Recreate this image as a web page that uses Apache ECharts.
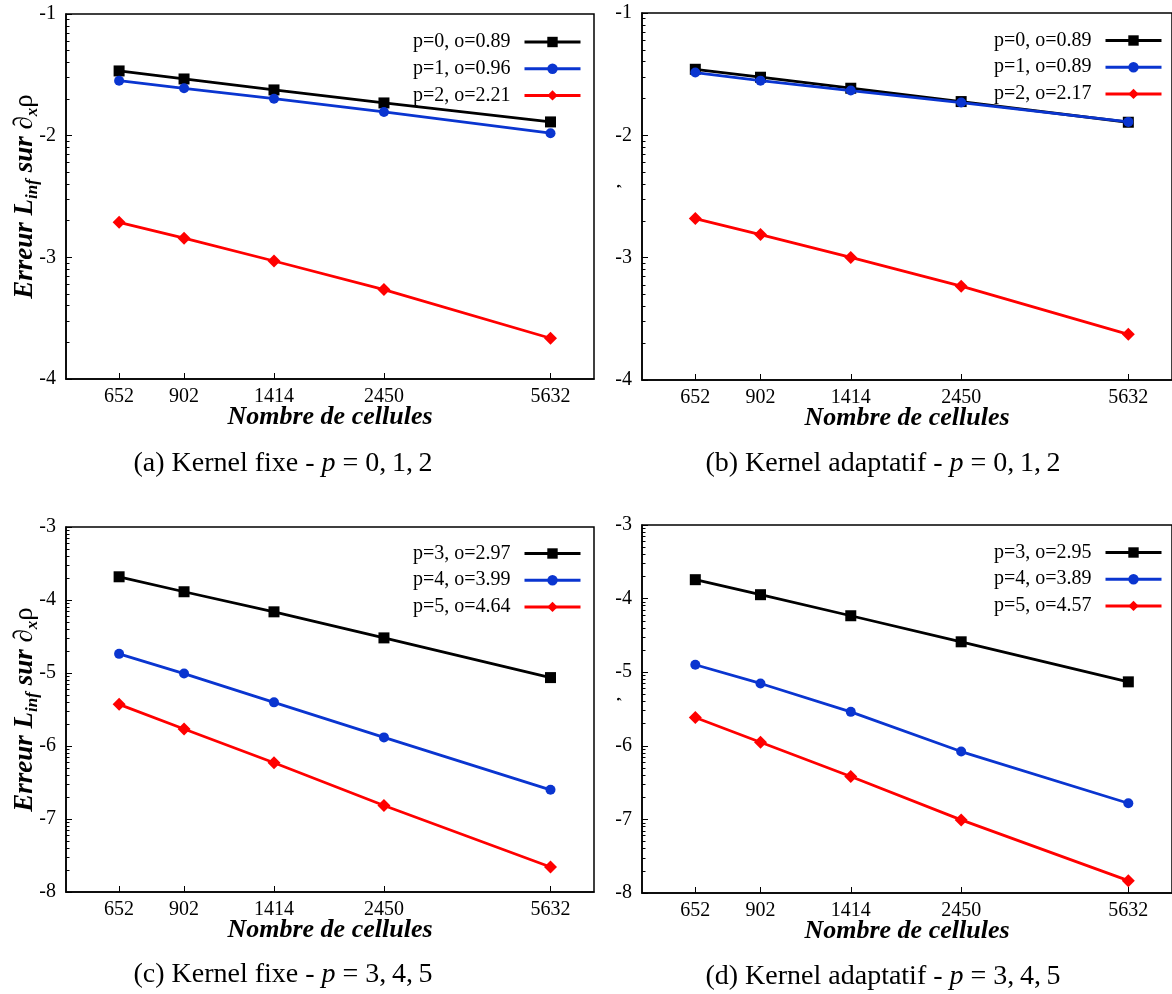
<!DOCTYPE html>
<html>
<head>
<meta charset="utf-8">
<script src="https://cdn.jsdelivr.net/npm/echarts@6/dist/echarts.min.js"></script>
<style>html,body{margin:0;padding:0;background:#fff}#c{width:1172px;height:994px}</style>
</head>
<body>
<div id="c"></div>
<script>
// ---- data (log10 of L_inf error vs number of cells) ----
const cells = [652, 902, 1414, 2450, 5632];

const namesA = ['p=0, o=0.89', 'p=1, o=0.96', 'p=2, o=2.21'];
const a_p0 = [-1.468, -1.534, -1.624, -1.731, -1.887];
const a_p1 = [-1.548, -1.611, -1.696, -1.805, -1.980];
const a_p2 = [-2.712, -2.843, -3.030, -3.265, -3.665];

const namesB = ['p=0, o=0.89', 'p=1, o=0.89', 'p=2, o=2.17'];
const b_p0 = [-1.460, -1.525, -1.615, -1.724, -1.893];
const b_p1 = [-1.487, -1.553, -1.634, -1.732, -1.890];
const b_p2 = [-2.680, -2.811, -2.998, -3.233, -3.627];

const namesC = ['p=3, o=2.97', 'p=4, o=3.99', 'p=5, o=4.64'];
const c_p3 = [-3.682, -3.887, -4.162, -4.519, -5.063];
const c_p4 = [-4.738, -5.008, -5.402, -5.882, -6.600];
const c_p5 = [-5.429, -5.768, -6.230, -6.815, -7.657];

const namesD = ['p=3, o=2.95', 'p=4, o=3.89', 'p=5, o=4.57'];
const d_p3 = [-3.743, -3.947, -4.233, -4.587, -5.131];
const d_p4 = [-4.899, -5.153, -5.539, -6.078, -6.781];
const d_p5 = [-5.616, -5.951, -6.418, -7.007, -7.832];

const captions = ['(a) Kernel fixe - ', '(b) Kernel adaptatif - ', '(c) Kernel fixe - ', '(d) Kernel adaptatif - '];
const captionTails = ['\u2005=\u20050,\u20091,\u20092', '\u2005=\u20050,\u20091,\u20092', '\u2005=\u20053,\u20094,\u20095', '\u2005=\u20053,\u20094,\u20095'];
const xTitle = 'Nombre de cellules';
const xMin = 500, xMax = 7000;
const yRanges = [[-4, -1], [-4, -1], [-8, -3], [-8, -3]];

// ---- layout / style ----
const FONT = '"Liberation Serif", "Times New Roman", serif';
const colors = ['#000000', '#0a35d0', '#ff0000'];
const symbols = ['rect', 'circle', 'diamond'];
const symSizes = [11, 10, 13];
const grids = [
  {left: 66, top: 14, width: 528, height: 365},
  {left: 642, top: 13, width: 532, height: 367},
  {left: 66, top: 527, width: 528, height: 365},
  {left: 642, top: 525, width: 532, height: 368}
];
const legendPos = [
  {right: 590, top: 32},
  {right: 9, top: 30.5},
  {right: 590, top: 543.5},
  {right: 9, top: 542.5}
];
const captionPos = [[283, 464], [883, 464], [283, 975], [883, 977]];

const panels = [
  {names: namesA, data: [a_p0, a_p1, a_p2]},
  {names: namesB, data: [b_p0, b_p1, b_p2]},
  {names: namesC, data: [c_p3, c_p4, c_p5]},
  {names: namesD, data: [d_p3, d_p4, d_p5]}
];

const lg = v => Math.log10(v);
const tickVals = cells.map(lg);

function minorTicks(r) {
  const out = [];
  for (let d = r[0]; d < r[1]; d++) {
    for (let k = 2; k <= 9; k++) out.push(d + Math.log10(k));
  }
  return out;
}

const yNameRich = {
  b: {fontFamily: FONT, fontSize: 27, fontWeight: 'bold', fontStyle: 'italic', lineHeight: 32, color: '#000'},
  s: {fontFamily: FONT, fontSize: 17, fontWeight: 'bold', fontStyle: 'italic', lineHeight: 17, verticalAlign: 'bottom', color: '#000'},
  n: {fontFamily: FONT, fontSize: 27, lineHeight: 32, color: '#000'}
};

const xAxes = [], yAxes = [], yMinor = [], series = [], legends = [], graphics = [];

grids.forEach((g, i) => {
  xAxes.push({
    gridIndex: i, type: 'value', min: lg(xMin), max: lg(xMax),
    axisLine: {show: true, lineStyle: {color: '#000', width: 1.5}},
    axisTick: {show: true, inside: true, length: 6, lineStyle: {color: '#000', width: 1}, customValues: tickVals},
    axisLabel: {show: true, customValues: tickVals, margin: 8, color: '#000', fontFamily: FONT, fontSize: 20,
      formatter: v => String(Math.round(Math.pow(10, v)))},
    splitLine: {show: false},
    name: xTitle, nameLocation: 'middle', nameGap: 25, nameMoveOverlap: false,
    nameTextStyle: {fontFamily: FONT, fontSize: 26, fontWeight: 'bold', fontStyle: 'italic', color: '#000'}
  });
  const r = yRanges[i];
  const ya = {
    gridIndex: i, type: 'value', min: r[0], max: r[1], interval: 1, position: 'left',
    axisLine: {show: true, lineStyle: {color: '#000', width: 1.5}},
    axisTick: {show: true, inside: true, length: 6, lineStyle: {color: '#000', width: 1}},
    axisLabel: {show: true, margin: 10, color: '#000', fontFamily: FONT, fontSize: 20},
    splitLine: {show: false}
  };
  if (i % 2 === 0) {
    ya.name = '{b|Erreur L}{s|inf}{b| sur }{n|\u2202}{s|x}{n|\u03c1}';
    ya.nameLocation = 'middle';
    ya.nameGap = 25;
    ya.nameRotate = 90;
    ya.nameMoveOverlap = false;
    ya.nameTextStyle = {rich: yNameRich};
  }
  yAxes.push(ya);
  yMinor.push({
    gridIndex: i, type: 'value', min: r[0], max: r[1], position: 'left', offset: 0,
    axisLine: {show: false},
    axisTick: {show: true, inside: true, length: 3.5, lineStyle: {color: '#000', width: 1}, customValues: minorTicks(r)},
    axisLabel: {show: false},
    splitLine: {show: false}
  });

  const p = panels[i];
  p.data.forEach((vals, k) => {
    series.push({
      type: 'line', name: p.names[k], xAxisIndex: i, yAxisIndex: i,
      data: cells.map((c, j) => [lg(c), vals[j]]),
      symbol: symbols[k], symbolSize: symSizes[k], showAllSymbol: true,
      lineStyle: {color: colors[k], width: 2.8},
      itemStyle: {color: colors[k]},
      emphasis: {disabled: true}, animation: false, z: 3 + k
    });
  });

  legends.push(Object.assign({
    orient: 'vertical', align: 'right', padding: 0, itemGap: 6.7,
    itemWidth: 56, itemHeight: 13, selectedMode: false,
    data: p.names,
    lineStyle: {width: 3},
    textStyle: {fontFamily: FONT, fontSize: 20, color: '#000', lineHeight: 20, padding: [0, 9, 0, 0]}
  }, legendPos[i]));

  graphics.push({
    type: 'text', x: captionPos[i][0], y: captionPos[i][1],
    style: {
      text: '{t|' + captions[i] + '}{i|p}{t|' + captionTails[i] + '}',
      rich: {
        t: {fontFamily: FONT, fontSize: 28, fill: '#000'},
        i: {fontFamily: FONT, fontSize: 28, fontStyle: 'italic', fill: '#000'}
      },
      align: 'center', verticalAlign: 'middle'
    }
  });
});

// small stray marks left of panels (b) and (d)
graphics.push({type: 'text', x: 615, y: 186, rotation: Math.PI / 2,
  style: {text: ',', fontFamily: FONT, fontSize: 15, fontWeight: 'bold', fill: '#000', align: 'center', verticalAlign: 'middle'}});
graphics.push({type: 'text', x: 615, y: 699, rotation: Math.PI / 2,
  style: {text: ',', fontFamily: FONT, fontSize: 15, fontWeight: 'bold', fill: '#000', align: 'center', verticalAlign: 'middle'}});

const chart = echarts.init(document.getElementById('c'), null, {renderer: 'canvas'});
chart.setOption({
  backgroundColor: '#fff',
  animation: false,
  grid: grids.map(g => Object.assign({show: true, borderColor: '#000', borderWidth: 1.5, backgroundColor: 'transparent', containLabel: false}, g)),
  xAxis: xAxes,
  yAxis: yAxes.concat(yMinor),
  legend: legends,
  series: series,
  graphic: graphics
});
</script>
</body>
</html>
